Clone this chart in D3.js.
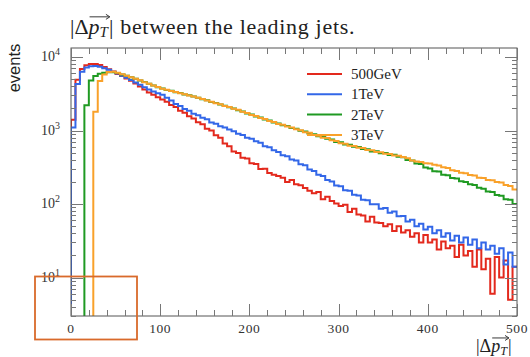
<!DOCTYPE html>
<html>
<head>
<meta charset="utf-8">
<script src="https://cdn.jsdelivr.net/npm/d3@7"></script>
<style>
  body { margin: 0; background: #fff; }
  svg { display: block; }
  .serif { font-family: 'Liberation Serif', 'DejaVu Serif', serif; }
  .sans { font-family: 'Liberation Sans', 'DejaVu Sans', sans-serif; }
</style>
</head>
<body>
<div id="chart"></div>
<script>
// histogram bins, 5 GeV wide, lower edges 0..495
const binWidth = 5;
const binLow = d3.range(0, 500, binWidth);

const seriesNames = ['500GeV', '1TeV', '2TeV', '3TeV'];
const seriesColors = ['#e3291d', '#3367e8', '#1f9a22', '#f9a12a'];

const v500GeV = [
  1400, 4900, 6850, 7700, 8050, 8000, 7780, 7320, 6820, 6330,
  5880, 5500, 5090, 4740, 4360, 3960, 3620, 3300, 3060, 2840,
  2640, 2470, 2220, 2080, 1860, 1740, 1560, 1460, 1300, 1220,
  1060, 1000, 860, 800, 665, 610, 520, 495, 425, 415,
  360, 350, 300, 302, 265, 250, 240, 228, 200, 212,
  186, 180, 165, 152, 140, 146, 116, 126, 110, 102,
  94, 98, 78, 86, 72, 70, 58, 67, 56, 55,
  50, 53, 43, 50, 41, 44, 36, 40, 30, 38,
  30, 33, 24, 31, 25, 27, 19, 28, 20, 23,
  14, 24, 13, 18, 6, 19, 10, 17, 5, 14
];
const v1TeV = [
  1100, 4300, 6300, 7200, 7500, 7560, 7360, 7050, 6700, 6320,
  5940, 5560, 5210, 4860, 4510, 4190, 3890, 3610, 3390, 3200,
  3060, 2800, 2560, 2300, 2150, 1960, 1850, 1690, 1610, 1490,
  1420, 1290, 1240, 1140, 1100, 1030, 980, 900, 870, 800,
  775, 712, 680, 612, 590, 538, 512, 462, 448, 402,
  392, 348, 336, 294, 282, 250, 240, 212, 202, 178,
  175, 154, 152, 134, 131, 114, 113, 99, 99, 86,
  88, 76, 79, 68, 69, 58, 61, 50, 54, 45,
  49, 40, 44, 36, 40, 32, 37, 30, 35, 28,
  33, 25, 30, 24, 27, 21, 25, 15, 22, 14
];
const v2TeV = [
  0, 0, 0, 2200, 4800, 5500, 5900, 6100, 6200, 6200,
  6040, 5790, 5560, 5290, 5060, 4790, 4560, 4310, 4110, 3890,
  3730, 3570, 3460, 3320, 3230, 3100, 3010, 2890, 2800, 2670,
  2580, 2450, 2370, 2250, 2170, 2070, 2000, 1890, 1820, 1710,
  1650, 1550, 1500, 1410, 1370, 1290, 1250, 1180, 1150, 1080,
  1060, 990, 970, 910, 890, 835, 820, 770, 755, 700,
  690, 645, 640, 600, 598, 560, 558, 520, 522, 490,
  494, 466, 468, 440, 432, 398, 390, 356, 350, 314,
  305, 280, 276, 250, 246, 226, 222, 204, 200, 186,
  182, 166, 162, 148, 146, 133, 130, 116, 114, 100
];
const v3TeV = [
  0, 0, 0, 0, 0, 1800, 4700, 5800, 6250, 6300,
  6100, 5820, 5540, 5310, 5040, 4810, 4540, 4330, 4090, 3910,
  3710, 3590, 3440, 3340, 3210, 3120, 2990, 2910, 2780, 2690,
  2560, 2470, 2350, 2270, 2150, 2090, 1980, 1910, 1800, 1730,
  1630, 1570, 1480, 1430, 1350, 1310, 1230, 1200, 1130, 1100,
  1040, 1010, 950, 930, 870, 850, 800, 790, 735, 720,
  672, 662, 622, 618, 582, 578, 545, 538, 510, 506,
  482, 480, 458, 455, 436, 420, 392, 378, 372, 360,
  356, 342, 334, 316, 308, 288, 282, 266, 262, 248,
  244, 228, 226, 212, 210, 200, 196, 182, 176, 158
];
const seriesValues = [v500GeV, v1TeV, v2TeV, v3TeV];

const xTickLabels = [0, 100, 200, 300, 400, 500];
const yDecades = [1, 2, 3, 4];

const W = 530, H = 357;
const mLeft = 71, mRight = 517, mTop = 48, mBottom = 316;

const svg = d3.select('#chart').append('svg')
  .attr('width', W).attr('height', H);

const x = d3.scaleLinear().domain([0, 500]).range([mLeft, mRight]);
const y = d3.scaleLog().domain([3, 13250]).range([mBottom, mTop]);

// clip for the curves
svg.append('clipPath').attr('id', 'plotclip')
  .append('rect').attr('x', mLeft).attr('y', mTop)
  .attr('width', mRight - mLeft).attr('height', mBottom - mTop);

// curves
const line = d3.line()
  .x(d => x(d[0]))
  .y(d => d[1] > 0 ? y(d[1]) : mBottom + 2)
  .curve(d3.curveStepAfter);

seriesValues.forEach((vals, k) => {
  let first = vals.findIndex(v => v > 0);
  let pts = [[binLow[first], 0]];
  for (let i = first; i < vals.length; i++) pts.push([binLow[i], vals[i]]);
  pts.push([500, vals[vals.length - 1]]);
  svg.append('path')
    .attr('clip-path', 'url(#plotclip)')
    .attr('d', line(pts))
    .attr('fill', 'none')
    .attr('stroke', seriesColors[k])
    .attr('stroke-width', 2)
    .attr('stroke-linejoin', 'miter');
});

// frame
svg.append('rect')
  .attr('x', mLeft).attr('y', mTop)
  .attr('width', mRight - mLeft).attr('height', mBottom - mTop)
  .attr('fill', 'none').attr('stroke', '#555').attr('stroke-width', 1);

// x ticks
const xTicks = d3.range(0, 501, 20);
xTicks.forEach(t => {
  let len = t % 100 === 0 ? 12 : 6;
  let px = Math.round(x(t)) + 0.5;
  svg.append('line').attr('x1', px).attr('x2', px)
    .attr('y1', mBottom).attr('y2', mBottom - len)
    .attr('stroke', '#777').attr('stroke-width', 1);
  svg.append('line').attr('x1', px).attr('x2', px)
    .attr('y1', mTop).attr('y2', mTop + len)
    .attr('stroke', '#777').attr('stroke-width', 1);
});
svg.selectAll('text.xlab').data(xTickLabels).enter().append('text')
  .attr('class', 'xlab serif')
  .attr('x', d => x(d)).attr('y', 333)
  .attr('text-anchor', 'middle')
  .attr('font-size', 13.5)
  .attr('letter-spacing', 0.6)
  .attr('fill', '#333')
  .text(d => d);

// y ticks (log)
let yTicks = [];
[0, 1, 2, 3, 4].forEach(e => {
  for (let m = 1; m <= 9; m++) {
    let v = m * Math.pow(10, e);
    if (v >= 3 && v <= 13250) yTicks.push({ v: v, major: m === 1 });
  }
});
yTicks.forEach(t => {
  let len = t.major ? 12 : 5;
  let py = Math.round(y(t.v)) + 0.5;
  svg.append('line').attr('x1', mLeft).attr('x2', mLeft + len)
    .attr('y1', py).attr('y2', py)
    .attr('stroke', '#777').attr('stroke-width', 1);
  svg.append('line').attr('x1', mRight).attr('x2', mRight - len)
    .attr('y1', py).attr('y2', py)
    .attr('stroke', '#777').attr('stroke-width', 1);
});
yDecades.forEach(e => {
  let t = svg.append('text')
    .attr('class', 'serif')
    .attr('x', 60).attr('y', y(Math.pow(10, e)) + 4)
    .attr('text-anchor', 'end')
    .attr('font-size', 14)
    .attr('fill', '#333');
  t.append('tspan').text('10');
  t.append('tspan').attr('dy', -6).attr('font-size', 10).text(e);
});

// |Δp_T| label with arrow over p_T
function deltaPt(x0, base, size, tail, spacing) {
  let g = svg.append('g');
  let cx = x0;
  function piece(str, opts) {
    let t = g.append('text')
      .attr('class', 'serif')
      .attr('x', cx).attr('y', base + (opts.dy || 0))
      .attr('font-size', opts.size || size)
      .attr('font-style', opts.italic ? 'italic' : 'normal')
      .attr('letter-spacing', opts.ls || 0)
      .attr('fill', '#222')
      .text(str);
    let w = t.node().getComputedTextLength();
    let start = cx;
    cx += w + (opts.gap || 0);
    return [start, cx];
  }
  piece('|Δ', {});
  let p = piece('p', { italic: true });
  let T = piece('T', { italic: true, size: size * 0.68, dy: 2.5, gap: 1 });
  piece('|' + (tail || ''), { ls: spacing || 0 });
  // arrow
  let ay = base - size * 0.78;
  let ax0 = p[0] + 1, ax1 = T[1] + 1;
  g.append('line').attr('x1', ax0).attr('x2', ax1 - 1)
    .attr('y1', ay).attr('y2', ay)
    .attr('stroke', '#222').attr('stroke-width', 0.9);
  g.append('path')
    .attr('d', `M${ax1 - 4},${ay - 2.5} L${ax1},${ay} L${ax1 - 4},${ay + 2.5}`)
    .attr('fill', 'none').attr('stroke', '#222').attr('stroke-width', 0.9);
  return g;
}

deltaPt(70, 34, 22, ' between the leading jets.', 0.7);
deltaPt(476, 352, 18);

// y title
svg.append('text')
  .attr('class', 'sans')
  .attr('transform', 'translate(19.5,68) rotate(-90)')
  .attr('text-anchor', 'middle')
  .attr('font-size', 16.5)
  .attr('fill', '#222')
  .text('events');

// legend
const legend = svg.append('g');
seriesNames.forEach((name, k) => {
  let ly = 74 + k * 20.3;
  legend.append('line')
    .attr('x1', 307).attr('x2', 342)
    .attr('y1', ly).attr('y2', ly)
    .attr('stroke', seriesColors[k]).attr('stroke-width', 2);
  legend.append('text')
    .attr('class', 'serif')
    .attr('x', 351).attr('y', ly + 5)
    .attr('font-size', 15)
    .attr('fill', '#222')
    .text(name);
});

// orange annotation box, bottom left
svg.append('rect')
  .attr('x', 35).attr('y', 276.5)
  .attr('width', 102).attr('height', 63)
  .attr('fill', 'none')
  .attr('stroke', '#d96a2b').attr('stroke-width', 1.8);
</script>
</body>
</html>
